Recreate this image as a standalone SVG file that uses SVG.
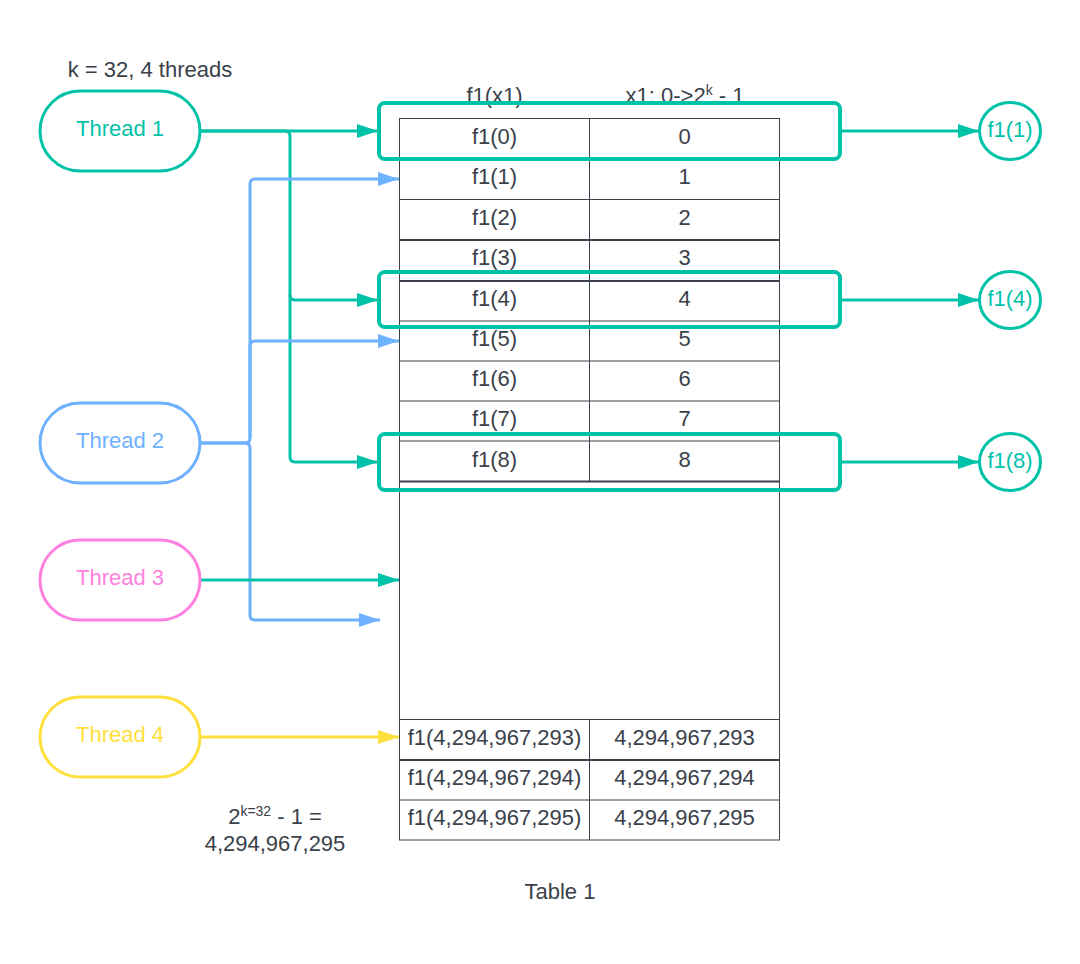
<svg xmlns="http://www.w3.org/2000/svg" width="1080" height="964" viewBox="0 0 1080 964">
<defs>
<style>
text{font-family:"Liberation Sans",Arial,sans-serif;font-size:22px;fill:#3a414a}
.c{text-anchor:middle}
.tl{stroke:#3a414a;stroke-width:1;fill:none}
.tk{stroke:#3a414a;stroke-width:2;fill:none}
.hl{fill:none;stroke:#00c2a8;stroke-width:4}
.g{fill:none;stroke:#00c2a8;stroke-width:3}
.b{fill:none;stroke:#6db1ff;stroke-width:3}
.y{fill:none;stroke:#ffdf3c;stroke-width:3}
</style>
<marker id="ag" markerUnits="userSpaceOnUse" markerWidth="22" markerHeight="14" refX="21" refY="7" orient="auto"><path d="M0,0 L21,7 L0,14 z" fill="#00c2a8"/></marker>
<marker id="ab" markerUnits="userSpaceOnUse" markerWidth="22" markerHeight="14" refX="21" refY="7" orient="auto"><path d="M0,0 L21,7 L0,14 z" fill="#6db1ff"/></marker>
<marker id="ay" markerUnits="userSpaceOnUse" markerWidth="22" markerHeight="14" refX="21" refY="7" orient="auto"><path d="M0,0 L21,7 L0,14 z" fill="#ffdf3c"/></marker>
</defs>
<rect width="1080" height="964" fill="#ffffff"/>

<text class="c" x="150" y="77">k = 32, 4 threads</text>

<g id="table">
<rect class="tl" x="399.5" y="118.5" width="380" height="721.5"/>
<path class="tl" d="M589.5 118.5V481.5M589.5 719.5V840"/>
<path class="tl" d="M399.5 159H779.5M399.5 199.5H779.5M399.5 321H779.5M399.5 361H779.5M399.5 401H779.5M399.5 441H779.5M399.5 719.5H779.5M399.5 800H779.5"/>
<path class="tk" d="M399.5 240H779.5M399.5 281H779.5M399.5 481.5H779.5M399.5 760H779.5"/>
<text class="c" x="494.5" y="103">f1(x1)</text>
<text class="c" x="685" y="103">x1: 0-&gt;2<tspan font-size="14" dy="-8">k</tspan><tspan dy="8"> - 1</tspan></text>
<text class="c" x="494.5" y="143.5">f1(0)</text><text class="c" x="684.5" y="143.5">0</text>
<text class="c" x="494.5" y="184">f1(1)</text><text class="c" x="684.5" y="184">1</text>
<text class="c" x="494.5" y="224.5">f1(2)</text><text class="c" x="684.5" y="224.5">2</text>
<text class="c" x="494.5" y="265">f1(3)</text><text class="c" x="684.5" y="265">3</text>
<text class="c" x="494.5" y="306">f1(4)</text><text class="c" x="684.5" y="306">4</text>
<text class="c" x="494.5" y="346">f1(5)</text><text class="c" x="684.5" y="346">5</text>
<text class="c" x="494.5" y="386">f1(6)</text><text class="c" x="684.5" y="386">6</text>
<text class="c" x="494.5" y="426">f1(7)</text><text class="c" x="684.5" y="426">7</text>
<text class="c" x="494.5" y="466.5">f1(8)</text><text class="c" x="684.5" y="466.5">8</text>
<text class="c" x="494.5" y="744.5">f1(4,294,967,293)</text><text class="c" x="684.5" y="744.5">4,294,967,293</text>
<text class="c" x="494.5" y="785">f1(4,294,967,294)</text><text class="c" x="684.5" y="785">4,294,967,294</text>
<text class="c" x="494.5" y="825">f1(4,294,967,295)</text><text class="c" x="684.5" y="825">4,294,967,295</text>
</g>

<g id="highlights">
<rect class="hl" x="379" y="103" width="461" height="56" rx="6"/>
<rect class="hl" x="379" y="272" width="461" height="55" rx="6"/>
<rect class="hl" x="379" y="434" width="461" height="56" rx="6"/>
</g>

<g id="connectors">
<path class="g" d="M200 131H378" marker-end="url(#ag)"/>
<path class="g" d="M200 131H285Q290 131 290 136V295Q290 300 295 300H378" marker-end="url(#ag)"/>
<path class="g" d="M290 295V457Q290 462 295 462H378" marker-end="url(#ag)"/>
<path class="b" d="M200 443H245Q250 443 250 438V184Q250 179 255 179H399" marker-end="url(#ab)"/>
<path class="b" d="M250 438V346Q250 341 255 341H399" marker-end="url(#ab)"/>
<path class="b" d="M200 443H245Q250 443 250 448V615Q250 620 255 620H380" marker-end="url(#ab)"/>
<path class="g" d="M200 580H399" marker-end="url(#ag)"/>
<path class="y" d="M200 737H399" marker-end="url(#ay)"/>
<path class="g" d="M840 131H979" marker-end="url(#ag)"/>
<path class="g" d="M840 300H979" marker-end="url(#ag)"/>
<path class="g" d="M840 462H979" marker-end="url(#ag)"/>
</g>

<g id="thread1">
<rect x="40" y="91" width="160" height="80" rx="40" fill="#ffffff" stroke="#00c2a8" stroke-width="3"/>
<text class="c" x="120" y="136" style="fill:#00c2a8">Thread 1</text>
</g>
<g id="thread2">
<rect x="40" y="403" width="160" height="80" rx="40" fill="#ffffff" stroke="#6db1ff" stroke-width="3"/>
<text class="c" x="120" y="448" style="fill:#6db1ff">Thread 2</text>
</g>
<g id="thread3">
<rect x="40" y="540" width="160" height="80" rx="40" fill="#ffffff" stroke="#ff80df" stroke-width="3"/>
<text class="c" x="120" y="585" style="fill:#ff80df">Thread 3</text>
</g>
<g id="thread4">
<rect x="40" y="697" width="160" height="80" rx="40" fill="#ffffff" stroke="#ffdf3c" stroke-width="3"/>
<text class="c" x="120" y="742" style="fill:#ffdf3c">Thread 4</text>
</g>

<g id="out1">
<ellipse cx="1010" cy="131" rx="30.5" ry="28.5" fill="#ffffff" stroke="#00c2a8" stroke-width="3"/>
<text class="c" x="1010" y="137" style="fill:#00c2a8">f1(1)</text>
</g>
<g id="out4">
<ellipse cx="1010" cy="300" rx="30.5" ry="28.5" fill="#ffffff" stroke="#00c2a8" stroke-width="3"/>
<text class="c" x="1010" y="306" style="fill:#00c2a8">f1(4)</text>
</g>
<g id="out8">
<ellipse cx="1010" cy="462" rx="30.5" ry="28.5" fill="#ffffff" stroke="#00c2a8" stroke-width="3"/>
<text class="c" x="1010" y="468" style="fill:#00c2a8">f1(8)</text>
</g>

<g id="note">
<text class="c" x="275" y="824">2<tspan font-size="14" dy="-8">k=32</tspan><tspan dy="8"> - 1 =</tspan></text>
<text class="c" x="275" y="851">4,294,967,295</text>
</g>
<text class="c" x="560" y="899">Table 1</text>
</svg>
